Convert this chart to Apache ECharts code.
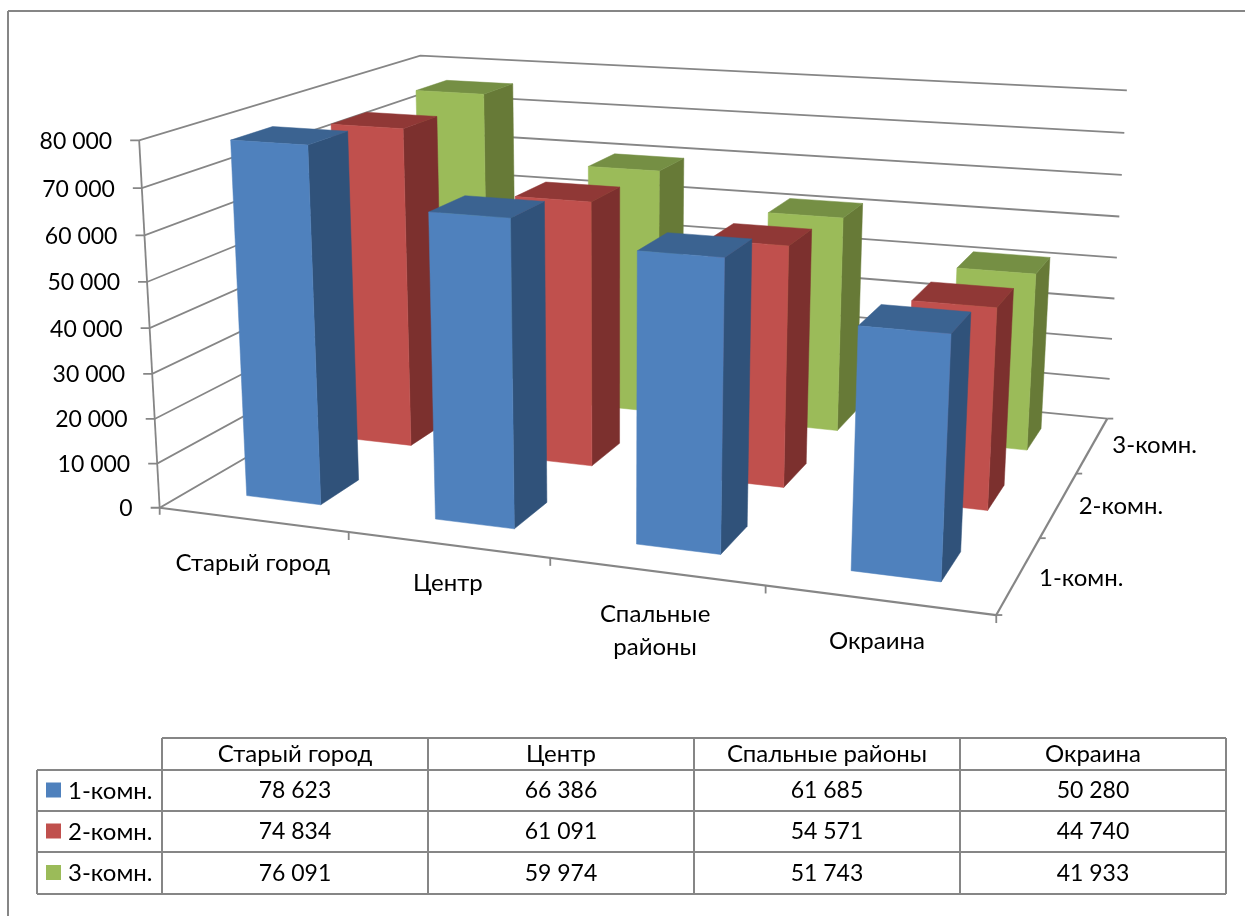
<!DOCTYPE html>
<html lang="ru">
<head>
<meta charset="utf-8">
<title>Цены на квартиры</title>
<style>html,body{margin:0;padding:0;background:#fff}#chart{width:1245px;height:916px}</style>
<script src="https://cdn.jsdelivr.net/npm/echarts@6/dist/echarts.min.js"></script>
</head>
<body>
<div id="chart"></div>
<script>
// Chart data
const categories = ['Старый город', 'Центр', 'Спальные районы', 'Окраина'];
const categoryLabels = ['Старый город', 'Центр', 'Спальные\nрайоны', 'Окраина'];
const rooms = ['1-комн.', '2-комн.', '3-комн.'];
const oneRoom = [78623, 66386, 61685, 50280];
const twoRoom = [74834, 61091, 54571, 44740];
const threeRoom = [76091, 59974, 51743, 41933];
const valueTicks = [0, 10000, 20000, 30000, 40000, 50000, 60000, 70000, 80000];

const roomValues = [oneRoom, twoRoom, threeRoom];
const faceColors = [
  { front: '#4F81BD', side: '#30527A', top: '#3B6391' },
  { front: '#C0504D', side: '#7C302E', top: '#903836' },
  { front: '#9BBB59', side: '#677A37', top: '#758F44' }
];

const LINE = '#868686';
const TEXT = '#000';
const FONT = '24px Lato, "Open Sans", sans-serif';
const NUMBER_FONT = '23px Lato, "Open Sans", sans-serif';
const BAR = 0.4; // bar share of a category cell, in width and in depth
const labelDrop = [44, 39, 59, 41]; // category label distance below the front edge
const labelShift = [0, 0, -1, -2]; // category label sideways correction

// The hidden cartesian grid supplies the scales; its plane is then projected into 3D view.
const box = { left: 100, top: 100, width: 800, height: 400 };

// Camera calibration: [u, v, w] of the plot cube -> screen position.
const calibration = [
  [0, 0, 0, 160, 507], [1, 0, 0, 995, 616], [0, 1, 0, 427, 355], [1, 1, 0, 1106, 416.5],
  [0, 0, 1, 140, 140], [0, 1, 1, 420, 54], [1, 1, 1, 1127, 91],
  [0.25, 0, 0, 348, 531], [0.5, 0, 0, 549, 558], [0.75, 0, 0, 764, 587],
  [1, 1 / 3, 0, 1044, 537], [1, 2 / 3, 0, 1078, 473],
  [0, 0, 0.5, 148, 327], [1, 1, 0.5, 1117, 258], [0, 1, 0.5, 424, 210]
];

// Box corners as further calibration: category, row, far-right?, far-back?, raised?, screen x, y
const cornerAnchors = [
  [0, 0, 0, 0, 1, 231, 140], [0, 0, 1, 0, 1, 308, 145], [0, 0, 1, 1, 1, 348, 131], [0, 0, 0, 1, 1, 273, 127],
  [0, 0, 0, 0, 0, 247, 495], [0, 0, 1, 0, 0, 321.5, 504], [0, 0, 1, 1, 0, 358, 480],
  [1, 0, 0, 0, 1, 429, 212], [1, 0, 0, 0, 0, 436, 519], [1, 0, 1, 0, 0, 514, 528], [1, 0, 1, 1, 0, 547, 503],
  [2, 0, 0, 0, 1, 637.5, 252], [2, 0, 1, 0, 1, 725, 258], [2, 0, 1, 1, 1, 752, 240],
  [2, 0, 0, 0, 0, 637, 544], [2, 0, 1, 0, 0, 721, 554], [2, 0, 1, 1, 0, 748, 526],
  [3, 0, 0, 0, 1, 858, 327], [3, 0, 1, 0, 1, 950, 334], [3, 0, 1, 1, 1, 970, 313],
  [3, 0, 0, 0, 0, 852, 572], [3, 0, 1, 0, 0, 941, 582], [3, 0, 1, 1, 0, 960, 553],
  [3, 1, 1, 1, 1, 1012, 289], [3, 1, 1, 0, 0, 987, 510],
  [3, 2, 1, 1, 1, 1050, 257], [3, 2, 0, 0, 1, 958, 268], [3, 2, 1, 0, 0, 1026, 448],
  [0, 2, 0, 0, 1, 417, 90], [0, 2, 1, 0, 1, 483, 94], [0, 2, 1, 1, 1, 512, 83],
  [0, 1, 0, 0, 1, 331, 124], [0, 1, 1, 0, 1, 403, 128], [0, 1, 1, 1, 1, 437, 116]
];
cornerAnchors.forEach(([i, j, right, back, raised, x, y]) => {
  calibration.push([
    (i + 0.5 + (right ? BAR : -BAR) / 2) / categories.length,
    (j + 0.5 + (back ? BAR : -BAR) / 2) / rooms.length,
    raised ? roomValues[j][i] / 80000 : 0,
    x, y
  ]);
});

function solveCamera(points) {
  const n = 11;
  const A = Array.from({ length: n }, () => new Array(n + 1).fill(0));
  const add = (row, rhs) => {
    for (let a = 0; a < n; a++) {
      for (let b = 0; b < n; b++) A[a][b] += row[a] * row[b];
      A[a][n] += row[a] * rhs;
    }
  };
  points.forEach(([u, v, w, px, py]) => {
    const x = px / 1000, y = py / 1000;
    add([u, v, w, 1, 0, 0, 0, 0, -x * u, -x * v, -x * w], x);
    add([0, 0, 0, 0, u, v, w, 1, -y * u, -y * v, -y * w], y);
  });
  for (let c = 0; c < n; c++) {
    let pivot = c;
    for (let r = c + 1; r < n; r++) if (Math.abs(A[r][c]) > Math.abs(A[pivot][c])) pivot = r;
    [A[c], A[pivot]] = [A[pivot], A[c]];
    for (let r = 0; r < n; r++) {
      if (r === c) continue;
      const f = A[r][c] / A[c][c];
      for (let k = c; k <= n; k++) A[r][k] -= f * A[c][k];
    }
  }
  return A.map((row, i) => row[n] / row[i]);
}
const cam = solveCamera(calibration);

function project(u, v, w) {
  const d = cam[8] * u + cam[9] * v + cam[10] * w + 1;
  return [
    1000 * (cam[0] * u + cam[1] * v + cam[2] * w + cam[3]) / d,
    1000 * (cam[4] * u + cam[5] * v + cam[6] * w + cam[7]) / d
  ];
}
const toU = (x) => (x - box.left) / box.width;
const toW = (y) => (box.top + box.height - y) / box.height;
const fmt = (n) => String(n).replace(/\B(?=(\d{3})+$)/g, ' ');

const line = (points, lineWidth) => ({
  type: 'polyline',
  silent: true,
  shape: { points },
  style: { stroke: LINE, fill: null, lineWidth: lineWidth || 1.8 }
});
const label = (text, x, y, align, font) => ({
  type: 'text',
  silent: true,
  style: { text, x, y, font: font || FONT, fill: TEXT, align, verticalAlign: 'middle', lineHeight: 33 }
});

// Walls: each value gridline runs along the left wall and then the back wall.
function renderGridline(params, api) {
  const w = toW(api.coord([0, api.value(1)])[1]);
  const a = project(0, 0, w);
  return {
    type: 'group',
    children: [
      line([[a[0] - 9, a[1]], a, project(0, 1, w), project(1, 1, w)]),
      label(fmt(api.value(1)), a[0] - 27, a[1] + 1, 'right', NUMBER_FONT)
    ]
  };
}

// Axis lines of the cube: left edge, front edge, right floor edge, and the back corner tick.
function renderFrame() {
  const backCorner = project(1, 1, 0);
  const frontCorner = project(1, 0, 0);
  const origin = project(0, 0, 0);
  return {
    type: 'group',
    children: [
      line([project(0, 0, 1), origin]),
      line([origin, [origin[0], origin[1] + 7]]),
      line([origin, frontCorner], 2.2),
      line([frontCorner, backCorner], 2.2),
      line([frontCorner, [frontCorner[0], frontCorner[1] + 8]]),
      line([frontCorner, [frontCorner[0] + 6, frontCorner[1]]]),
      line([backCorner, [backCorner[0] + 6, backCorner[1]]])
    ]
  };
}

function renderCategoryTick(params, api) {
  const i = api.value(0);
  const band = api.size([1, 0])[0];
  const cx = api.coord([i, 0])[0];
  const tick = project(toU(cx + band / 2), 0, 0);
  const mid = project(toU(cx), 0, 0);
  const children = [label(categoryLabels[i], mid[0] + labelShift[i], mid[1] + labelDrop[i], 'center')];
  if (i < categories.length - 1) children.push(line([tick, [tick[0], tick[1] + 8]]));
  return { type: 'group', children };
}

function renderDepthTick(params, api) {
  const j = api.value(0);
  const mid = project(1, (j + 0.5) / rooms.length, 0);
  const children = [label(rooms[j], mid[0] + 20, mid[1] + 3 - 1.5 * j, 'left')];
  if (j > 0) {
    const tick = project(1, j / rooms.length, 0);
    children.push(line([tick, [tick[0] + 6, tick[1]]]));
  }
  return { type: 'group', children };
}

// One box per value: side and top faces first, the front face over them.
function makeBarRenderer(j) {
  const colors = faceColors[j];
  return function (params, api) {
    const i = api.value(0);
    const top = api.coord([i, api.value(1)]);
    const band = api.size([1, 0])[0];
    const u0 = toU(top[0] - band * BAR / 2);
    const u1 = toU(top[0] + band * BAR / 2);
    const v0 = (j + 0.5 - BAR / 2) / rooms.length;
    const v1 = (j + 0.5 + BAR / 2) / rooms.length;
    const w = toW(top[1]);
    const face = (points, fill) => ({
      type: 'polygon',
      silent: true,
      shape: { points },
      style: { fill, stroke: fill, lineWidth: 0.5 }
    });
    return {
      type: 'group',
      children: [
        face([project(u1, v0, 0), project(u1, v1, 0), project(u1, v1, w), project(u1, v0, w)], colors.side),
        face([project(u0, v0, w), project(u1, v0, w), project(u1, v1, w), project(u0, v1, w)], colors.top),
        face([project(u0, v0, 0), project(u1, v0, 0), project(u1, v0, w), project(u0, v0, w)], colors.front)
      ]
    };
  };
}

// Data table under the plot
const tableX = [162, 428, 694, 960, 1226];
const tableY = [738, 770, 811, 852, 894];
const tableLeft = 37;
function buildTable() {
  const seg = (x1, y1, x2, y2) => ({
    type: 'line',
    silent: true,
    shape: { x1, y1, x2, y2 },
    style: { stroke: LINE, lineWidth: 2 }
  });
  const cell = (text, x, y, align, font) => ({
    type: 'text',
    silent: true,
    style: { text, x, y, font: font || FONT, fill: TEXT, align, verticalAlign: 'middle' }
  });
  const out = [
    // sheet border
    seg(8, 11, 1245, 11),
    seg(8, 11, 8, 916)
  ];
  tableY.forEach((y, r) => out.push(seg(r === 0 ? tableX[0] : tableLeft, y, tableX[4], y)));
  tableX.forEach((x) => out.push(seg(x, tableY[0], x, tableY[4])));
  out.push(seg(tableLeft, tableY[1], tableLeft, tableY[4]));
  const mid = (r) => (tableY[r] + tableY[r + 1]) / 2;
  categories.forEach((c, i) => {
    const cx = (tableX[i] + tableX[i + 1]) / 2;
    out.push(cell(c, cx, mid(0), 'center'));
    roomValues.forEach((vals, j) => out.push(cell(fmt(vals[i]), cx, mid(j + 1) + 0.5, 'center', NUMBER_FONT)));
  });
  rooms.forEach((name, j) => {
    const y = mid(j + 1);
    out.push({
      type: 'rect',
      silent: true,
      shape: { x: 46, y: y - 8, width: 15, height: 15 },
      style: { fill: faceColors[j].front }
    });
    out.push(cell(name, 68, y + 0.5, 'left'));
  });
  return out;
}

const series = [
  { type: 'custom', name: 'walls', renderItem: renderGridline, data: valueTicks.map((v) => [0, v]) },
  { type: 'custom', name: 'frame', renderItem: renderFrame, data: [[0, 0]] },
  { type: 'custom', name: 'categoryAxis', renderItem: renderCategoryTick, data: categories.map((c, i) => [i, 0]) },
  { type: 'custom', name: 'depthAxis', renderItem: renderDepthTick, data: rooms.map((r, j) => [j, 0]) }
];
// Rear row first so nearer boxes cover it
for (let j = rooms.length - 1; j >= 0; j--) {
  series.push({
    type: 'custom',
    name: rooms[j],
    renderItem: makeBarRenderer(j),
    data: roomValues[j].map((v, i) => [i, v])
  });
}

const chart = echarts.init(document.getElementById('chart'), null, { renderer: 'canvas' });
chart.setOption({
  animation: false,
  backgroundColor: '#fff',
  grid: Object.assign({ show: false }, box),
  xAxis: { type: 'category', data: categories, show: false },
  yAxis: { type: 'value', min: 0, max: 80000, interval: 10000, show: false },
  graphic: { elements: buildTable() },
  series
});
</script>
</body>
</html>
